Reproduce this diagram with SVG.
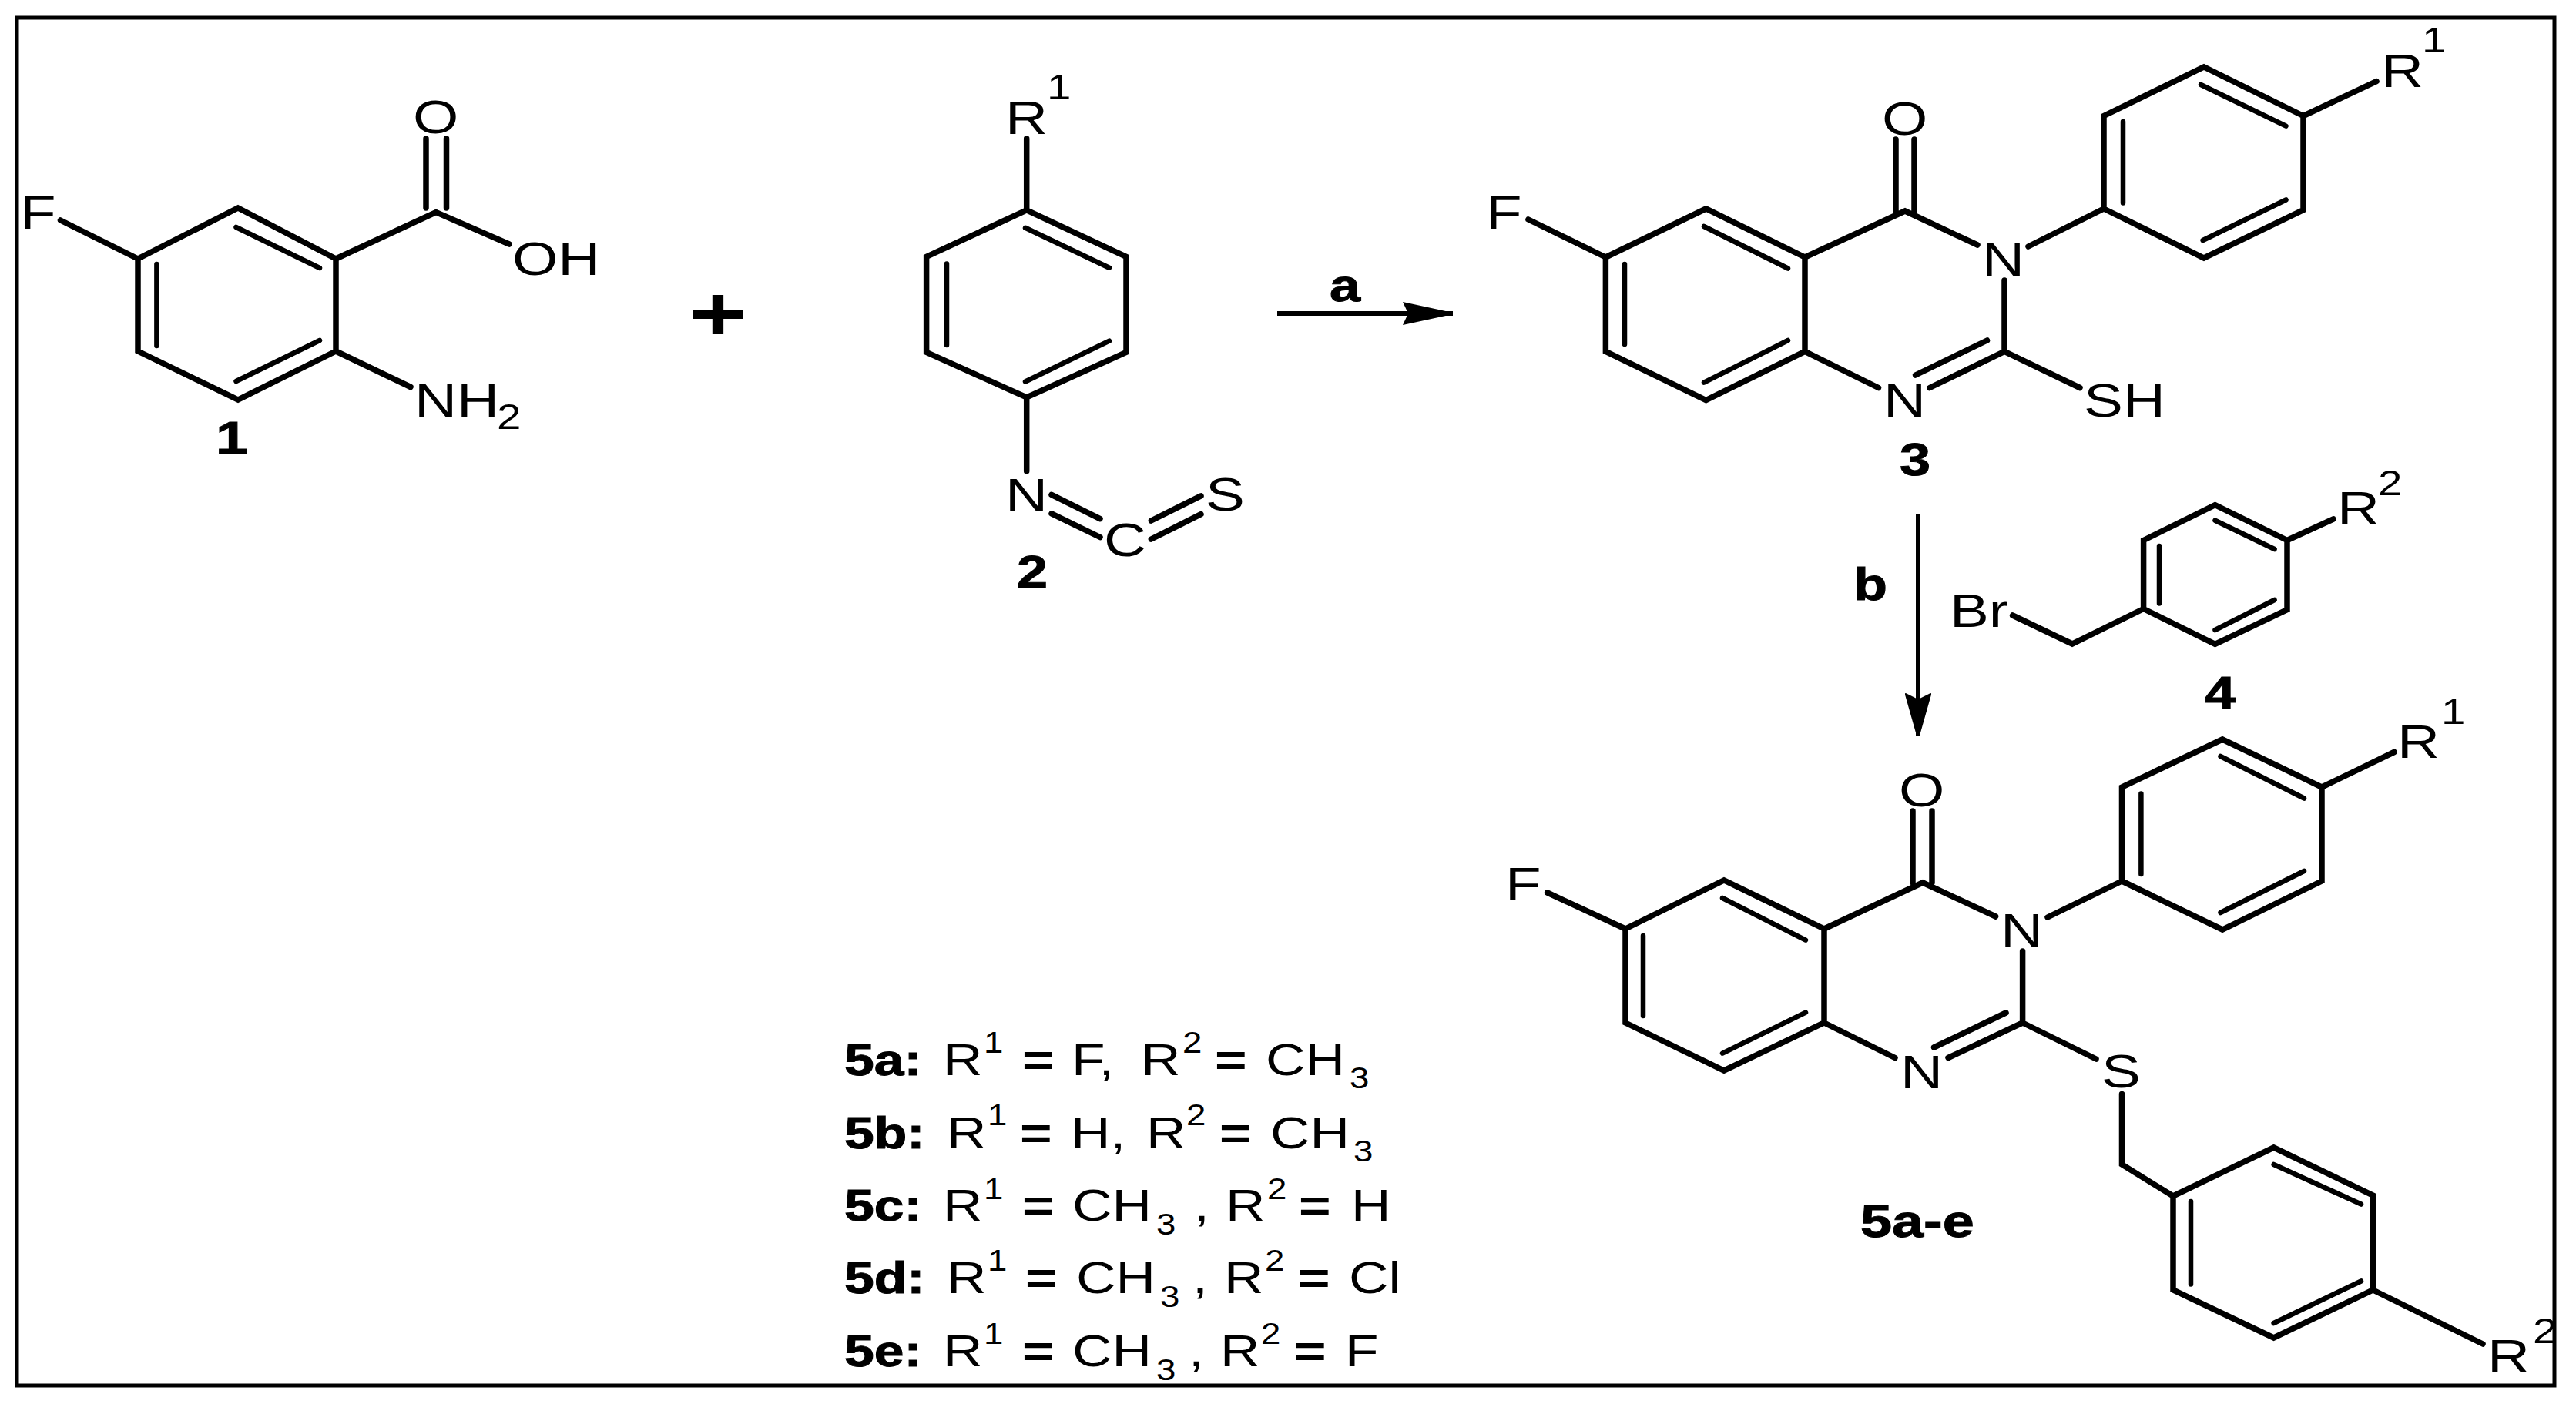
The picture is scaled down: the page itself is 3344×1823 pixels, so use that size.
<svg xmlns="http://www.w3.org/2000/svg" width="3344" height="1823" viewBox="0 0 3344 1823">
<defs>
<style>
text{font-family:"Liberation Sans",Arial,sans-serif;fill:#000}
.a{font-size:61px}
.s{font-size:47px}
.n{font-size:60px;font-weight:bold;stroke:#000;stroke-width:1}
.l{font-size:57px}
.u{font-size:38px}
.k{font-size:58px;font-weight:bold;stroke:#000;stroke-width:1}
.e{font-size:57px;font-weight:bold}
.b{fill:none;stroke:#000;stroke-width:7.5;stroke-linecap:round;stroke-linejoin:miter}
.i{fill:none;stroke:#000;stroke-width:6.5;stroke-linecap:round}
.c{fill:none;stroke:#000;stroke-width:6}
</style>
<marker id="head-a" markerUnits="userSpaceOnUse" markerWidth="68" markerHeight="34" refX="65" refY="17" orient="auto">
<path d="M0 2L65 16V18L0 32L7 17Z" fill="#000"/>
</marker>
<marker id="head-b" markerUnits="userSpaceOnUse" markerWidth="58" markerHeight="38" refX="55" refY="19" orient="auto">
<path d="M0 3Q-1 2 2 2L55 17V21L2 36Q-1 36 0 35L8 19Z" fill="#000"/>
</marker>
</defs>
<rect width="3344" height="1823" fill="#fff"/>
<rect x="22" y="23" width="3294" height="1776" fill="none" stroke="#000" stroke-width="5"/>

<g id="connectors">
<line class="c" x1="1658" y1="407" x2="1886" y2="407" marker-end="url(#head-a)"/>
<line class="c" x1="2490" y1="667" x2="2490" y2="955" marker-end="url(#head-b)"/>
<text class="n" transform="matrix(1.2 0 0 1 1726 391)">a</text>
<text class="n" transform="matrix(1.2 0 0 1 2406 779)">b</text>
<text style="font-size:100px;font-weight:bold" text-anchor="middle" transform="matrix(1.3 0 0 1 932 442)">+</text>
</g>

<g id="compound-1">
<path class="b" d="M309 270L436 336V456L309 519L179 456V336ZM436 336L566 275.5L661 317M553 180V270M579.500 180V270M179 336L78.500 286M436 456L533 502.500"/>
<path class="i" d="M306.500 295L415 348M203.400 343V449M306.500 495L415 442"/>
<text class="a" transform="matrix(1.25 0 0 1 26 297)">F</text>
<text class="a" transform="matrix(1.25 0 0 1 536 173)">O</text>
<text class="a" transform="matrix(1.25 0 0 1 665 357)">OH</text>
<text class="a" transform="matrix(1.25 0 0 1 538 541)">NH</text>
<text class="s" transform="matrix(1.2 0 0 1 645 557)">2</text>
<text class="n" transform="matrix(1.25 0 0 1 280 589)">1</text>
</g>

<g id="compound-2">
<path class="b" d="M1332.700 272.800L1462 333.400V457.400L1332.700 516L1202.600 457.400V333.400ZM1332.700 272.800V180M1332.700 516V611.700M1365 642.400L1428 673.700M1365 666.800L1428 697.500M1494.400 676L1559 643.800M1494.400 700L1559 667.700"/>
<path class="i" d="M1229 342.600V448M1331 295.800L1440 347.700M1331 495.500L1440 442.700"/>
<text class="a" transform="matrix(1.25 0 0 1 1305 174)">R</text>
<text class="s" transform="matrix(1.2 0 0 1 1359 129)">1</text>
<text class="a" transform="matrix(1.25 0 0 1 1305 664)">N</text>
<text class="a" transform="matrix(1.25 0 0 1 1433 722)">C</text>
<text class="a" transform="matrix(1.25 0 0 1 1565 663)">S</text>
<text class="n" transform="matrix(1.2 0 0 1 1320 763)">2</text>
</g>

<g id="compound-3">
<path class="b" d="M2084.400 334L2214.600 271L2343 334V456.400L2214.600 519.600L2084.400 456.400ZM2343 334L2473 274L2567 318M2461 181V274M2485 181V274M2084.400 334L1984 285M2633 320L2731 271V150.500L2861 87L2990 150.500V272.700L2861 335L2731 271M2990 150.500L3085 105.700M2602 364V456.400L2505 503.500M2579.500 442L2486.600 487M2343 456.400L2438.500 503.500M2602 456.400L2700 503.500"/>
<path class="i" d="M2212 294L2321 348.500M2109 343V447M2212 496.600L2321 442M2756 158V263.500M2857 110L2967.500 163.700M2859.600 312L2967.500 259.500"/>
<text class="a" transform="matrix(1.25 0 0 1 1929 297)">F</text>
<text class="a" transform="matrix(1.25 0 0 1 2443 175)">O</text>
<text class="a" transform="matrix(1.25 0 0 1 2573 358)">N</text>
<text class="a" transform="matrix(1.25 0 0 1 2445 541)">N</text>
<text class="a" transform="matrix(1.25 0 0 1 2705 541)">SH</text>
<text class="a" transform="matrix(1.25 0 0 1 3091 113)">R</text>
<text class="s" transform="matrix(1.2 0 0 1 3144 68)">1</text>
<text class="n" transform="matrix(1.2 0 0 1 2466 617)">3</text>
</g>

<g id="compound-4">
<path class="b" d="M2612.600 799L2690 836L2782.600 790.500V701.500L2875.500 655.600L2969 701.500V791.700L2875.500 836.400L2782.600 790.500M2969 701.500L3029 674"/>
<path class="i" d="M2803 709V783.600M2875.500 675.700L2952.600 713M2875.500 818L2952.600 779"/>
<text class="a" transform="matrix(1.25 0 0 1 2531 813.500)">Br</text>
<text class="a" transform="matrix(1.25 0 0 1 3034 681)">R</text>
<text class="s" transform="matrix(1.2 0 0 1 3087 643)">2</text>
<text class="n" transform="matrix(1.2 0 0 1 2862 920)">4</text>
</g>

<g id="compound-5">
<path class="b" d="M2110 1206L2238 1143L2368 1206V1328L2238 1390L2110 1328ZM2368 1206L2496 1146L2590.600 1190M2483 1053V1146M2508 1053V1146M2110 1206L2008.600 1159M2658 1191L2754.500 1144V1022L2885 960L3014 1022V1144L2885 1207L2754.500 1144M3014 1022L3108 976.500M2625.600 1235V1328L2529 1373.500M2604 1315L2510.500 1360M2368 1328L2460 1373.500M2625.600 1328L2721 1375M2754.500 1420.600V1512L2821 1553L2951.600 1490L3080.500 1552V1675L2951.600 1737L2821 1675V1553M3080.500 1675L3223 1745"/>
<path class="i" d="M2236 1166L2344 1220.600M2133 1215V1319M2236 1367.600L2344 1314.700M2779.400 1030.600V1135M2882.500 982L2991 1036.500M2882.500 1185L2991 1131M2844 1560V1667.600M2951.600 1512L3065 1563.500M2951.600 1718L3065 1663.500"/>
<text class="a" transform="matrix(1.25 0 0 1 1954 1169)">F</text>
<text class="a" transform="matrix(1.25 0 0 1 2465 1047)">O</text>
<text class="a" transform="matrix(1.25 0 0 1 2597 1229)">N</text>
<text class="a" transform="matrix(1.25 0 0 1 2467 1413)">N</text>
<text class="a" transform="matrix(1.25 0 0 1 2728 1412)">S</text>
<text class="a" transform="matrix(1.25 0 0 1 3112 984)">R</text>
<text class="s" transform="matrix(1.2 0 0 1 3169 940)">1</text>
<text class="a" transform="matrix(1.25 0 0 1 3229 1782)">R</text>
<text class="s" transform="matrix(1.2 0 0 1 3288 1744)">2</text>
<text class="n" transform="matrix(1.23 0 0 1 2415 1606)">5a-e</text>
</g>

<g id="legend">
<g id="legend-5a">
<text class="k" transform="matrix(1.2 0 0 1 1096 1396)">5a:</text>
<text class="l" transform="matrix(1.25 0 0 1 1224 1396)">R</text>
<text class="u" transform="matrix(1.2 0 0 1 1277 1367)">1</text>
<text class="e" transform="matrix(1.25 0 0 1 1327 1396)">=</text>
<text class="l" transform="matrix(1.25 0 0 1 1391 1396)">F,</text>
<text class="l" transform="matrix(1.25 0 0 1 1481 1396)">R</text>
<text class="u" transform="matrix(1.2 0 0 1 1535 1367)">2</text>
<text class="e" transform="matrix(1.25 0 0 1 1577 1396)">=</text>
<text class="l" transform="matrix(1.25 0 0 1 1643 1396)">CH</text>
<text class="u" transform="matrix(1.2 0 0 1 1752 1413)">3</text>
</g>
<g id="legend-5b">
<text class="k" transform="matrix(1.2 0 0 1 1096 1491)">5b:</text>
<text class="l" transform="matrix(1.25 0 0 1 1229 1491)">R</text>
<text class="u" transform="matrix(1.2 0 0 1 1282 1461)">1</text>
<text class="e" transform="matrix(1.25 0 0 1 1324 1491)">=</text>
<text class="l" transform="matrix(1.25 0 0 1 1390 1491)">H,</text>
<text class="l" transform="matrix(1.25 0 0 1 1488 1491)">R</text>
<text class="u" transform="matrix(1.2 0 0 1 1540 1461)">2</text>
<text class="e" transform="matrix(1.25 0 0 1 1583 1491)">=</text>
<text class="l" transform="matrix(1.25 0 0 1 1649 1491)">CH</text>
<text class="u" transform="matrix(1.2 0 0 1 1757 1508)">3</text>
</g>
<g id="legend-5c">
<text class="k" transform="matrix(1.2 0 0 1 1096 1585)">5c:</text>
<text class="l" transform="matrix(1.25 0 0 1 1224 1585)">R</text>
<text class="u" transform="matrix(1.2 0 0 1 1277 1557)">1</text>
<text class="e" transform="matrix(1.25 0 0 1 1327 1585)">=</text>
<text class="l" transform="matrix(1.25 0 0 1 1392 1585)">CH</text>
<text class="u" transform="matrix(1.2 0 0 1 1501 1603)">3</text>
<text class="l" transform="matrix(1.25 0 0 1 1550 1585)">,</text>
<text class="l" transform="matrix(1.25 0 0 1 1591 1585)">R</text>
<text class="u" transform="matrix(1.2 0 0 1 1645 1557)">2</text>
<text class="e" transform="matrix(1.25 0 0 1 1686 1585)">=</text>
<text class="l" transform="matrix(1.25 0 0 1 1754 1585)">H</text>
</g>
<g id="legend-5d">
<text class="k" transform="matrix(1.2 0 0 1 1096 1679)">5d:</text>
<text class="l" transform="matrix(1.25 0 0 1 1229 1679)">R</text>
<text class="u" transform="matrix(1.2 0 0 1 1282 1650)">1</text>
<text class="e" transform="matrix(1.25 0 0 1 1331 1679)">=</text>
<text class="l" transform="matrix(1.25 0 0 1 1397 1679)">CH</text>
<text class="u" transform="matrix(1.2 0 0 1 1506 1697)">3</text>
<text class="l" transform="matrix(1.25 0 0 1 1548 1679)">,</text>
<text class="l" transform="matrix(1.25 0 0 1 1589 1679)">R</text>
<text class="u" transform="matrix(1.2 0 0 1 1642 1650)">2</text>
<text class="e" transform="matrix(1.25 0 0 1 1685 1679)">=</text>
<text class="l" transform="matrix(1.25 0 0 1 1751 1679)">Cl</text>
</g>
<g id="legend-5e">
<text class="k" transform="matrix(1.2 0 0 1 1096 1774)">5e:</text>
<text class="l" transform="matrix(1.25 0 0 1 1224 1774)">R</text>
<text class="u" transform="matrix(1.2 0 0 1 1277 1745)">1</text>
<text class="e" transform="matrix(1.25 0 0 1 1327 1774)">=</text>
<text class="l" transform="matrix(1.25 0 0 1 1392 1774)">CH</text>
<text class="u" transform="matrix(1.2 0 0 1 1501 1792)">3</text>
<text class="l" transform="matrix(1.25 0 0 1 1543 1774)">,</text>
<text class="l" transform="matrix(1.25 0 0 1 1584 1774)">R</text>
<text class="u" transform="matrix(1.2 0 0 1 1637 1745)">2</text>
<text class="e" transform="matrix(1.25 0 0 1 1680 1774)">=</text>
<text class="l" transform="matrix(1.25 0 0 1 1746 1774)">F</text>
</g>
</g>
</svg>
